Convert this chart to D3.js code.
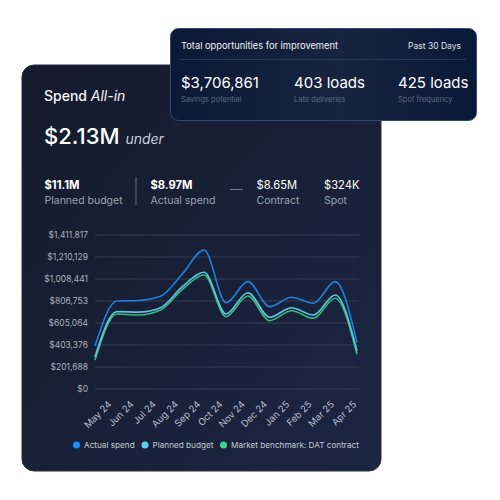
<!DOCTYPE html>
<html>
<head>
<meta charset="utf-8">
<script src="https://cdn.jsdelivr.net/npm/d3@7"></script>
<style>
  html, body { margin: 0; padding: 0; background: #fff; }
  svg { display: block; font-family: Inter, "Noto Sans", sans-serif; }
</style>
</head>
<body>
<div id="chart"></div>
<script>
// spend chart data
const months = ["May 24","Jun 24","Jul 24","Aug 24","Sep 24","Oct 24","Nov 24","Dec 24","Jan 25","Feb 25","Mar 25","Apr 25"];
const actualSpend = [394000, 807000, 812000, 850000, 1054000, 1274000, 791000, 984000, 755000, 841000, 786000, 984000, 424000];
const plannedBudget = [296000, 709000, 705000, 745000, 938000, 1070000, 688000, 883000, 657000, 745000, 678000, 862000, 348000];
const benchmark = [266000, 688000, 678000, 724000, 914000, 1045000, 663000, 853000, 626000, 718000, 648000, 832000, 318000];
const yTicks = [0, 201688, 403376, 605064, 806753, 1008441, 1210129, 1411817];
const yTickLabels = ["$0","$201,688","$403,376","$605,064","$806,753","$1,008,441","$1,210,129","$1,411.817"];

const stats = [
  {value: "$11.1M", label: "Planned budget", bold: true},
  {value: "$8.97M", label: "Actual spend", bold: true},
  {value: "$8.65M", label: "Contract", bold: false},
  {value: "$324K", label: "Spot", bold: false}
];
const opportunities = [
  {value: "$3,706,861", label: "Savings potential"},
  {value: "403 loads", label: "Late deliveries"},
  {value: "425 loads", label: "Spot frequency"}
];
const seriesNames = ["Actual spend", "Planned budget", "Market benchmark: DAT contract"];
const lineColors = ["#1c82dc", "#5fc6de", "#37b883"];
const dotColors = ["#1e8ff5", "#5ad0ee", "#3dd68c"];

const svg = d3.select("#chart").append("svg")
  .attr("width", 500)
  .attr("height", 500);

const defs = svg.append("defs");
const g1 = defs.append("linearGradient").attr("id", "mainBg")
  .attr("x1", "0").attr("y1", "0").attr("x2", "1").attr("y2", "1");
g1.append("stop").attr("offset", "0%").attr("stop-color", "#151a2c");
g1.append("stop").attr("offset", "100%").attr("stop-color", "#1b2642");

const g2 = defs.append("linearGradient").attr("id", "topBg")
  .attr("x1", "0").attr("y1", "0").attr("x2", "1").attr("y2", "0");
g2.append("stop").attr("offset", "0%").attr("stop-color", "#0c1936");
g2.append("stop").attr("offset", "55%").attr("stop-color", "#17243f");
g2.append("stop").attr("offset", "100%").attr("stop-color", "#0a1838");

// main card
svg.append("rect")
  .attr("x", 22).attr("y", 65)
  .attr("width", 359).attr("height", 406)
  .attr("rx", 12)
  .attr("fill", "url(#mainBg)")
  .attr("stroke", "#252d42");

svg.append("text")
  .attr("x", 44).attr("y", 101)
  .attr("fill", "#f2f4f8")
  .attr("font-size", 14)
  .attr("font-weight", 500)
  .text("Spend ")
  .append("tspan")
  .attr("font-style", "italic")
  .attr("font-weight", 400)
  .text("All-in");

svg.append("text")
  .attr("x", 44).attr("y", 143.5)
  .attr("fill", "#ffffff")
  .attr("font-size", 22)
  .attr("font-weight", 500)
  .text("$2.13M ")
  .append("tspan")
  .attr("font-size", 14)
  .attr("font-style", "italic")
  .attr("font-weight", 400)
  .attr("fill", "#c9cfda")
  .text("under");

const statX = [44.5, 150.5, 256.5, 324];
stats.forEach((s, i) => {
  svg.append("text")
    .attr("x", statX[i]).attr("y", 188.5)
    .attr("fill", "#ffffff")
    .attr("font-size", 11.2)
    .attr("font-weight", s.bold ? 700 : 400)
    .text(s.value);
  svg.append("text")
    .attr("x", statX[i]).attr("y", 203.5)
    .attr("fill", "#9aa2b3")
    .attr("font-size", 10.5)
    .text(s.label);
});
svg.append("line")
  .attr("x1", 136).attr("x2", 136)
  .attr("y1", 177).attr("y2", 205)
  .attr("stroke", "#586074").attr("stroke-width", 1.2);
svg.append("line")
  .attr("x1", 230).attr("x2", 243)
  .attr("y1", 189.5).attr("y2", 189.5)
  .attr("stroke", "#6b7386").attr("stroke-width", 1.2);

// chart
const x = d3.scaleLinear().domain([0, actualSpend.length - 1]).range([95, 357]);
const xLabel = d3.scalePoint().domain(months).range([112, 357]);
const y = d3.scaleLinear().domain([0, 1411817]).range([389, 235]);

const grid = svg.append("g");
grid.selectAll("line")
  .data(yTicks)
  .join("line")
  .attr("x1", 95).attr("x2", 359)
  .attr("y1", d => y(d)).attr("y2", d => y(d))
  .attr("stroke", "#363e52")
  .attr("stroke-width", 1);

const yAxis = d3.axisLeft(y)
  .tickValues(yTicks)
  .tickFormat((d, i) => yTickLabels[i])
  .tickSize(0)
  .tickPadding(0);
const yG = svg.append("g")
  .attr("transform", "translate(88,0)")
  .call(yAxis);
yG.select(".domain").remove();
yG.selectAll("text")
  .attr("fill", "#a9b0be")
  .attr("font-size", 8.5)
  .attr("font-family", "Inter, sans-serif");

const xG = svg.append("g");
xG.selectAll("text")
  .data(months)
  .join("text")
  .attr("transform", d => `translate(${xLabel(d)},405) rotate(-45)`)
  .attr("text-anchor", "end")
  .attr("fill", "#b8bfcc")
  .attr("font-size", 9.5)
  .text(d => d);

const line = d3.line()
  .x((d, i) => x(i))
  .y(d => y(d))
  .curve(d3.curveMonotoneX);

[benchmark, plannedBudget, actualSpend].forEach((s, k) => {
  svg.append("path")
    .datum(s)
    .attr("d", line)
    .attr("fill", "none")
    .attr("stroke", lineColors[2 - k])
    .attr("stroke-width", 1.6);
});

// legend
const legendX = [76.5, 145, 223.5];
seriesNames.forEach((n, i) => {
  svg.append("circle")
    .attr("cx", legendX[i]).attr("cy", 445)
    .attr("r", 3.5)
    .attr("fill", dotColors[i]);
  svg.append("text")
    .attr("x", legendX[i] + 7.5).attr("y", 448)
    .attr("fill", "#c3c9d4")
    .attr("font-size", 8.2)
    .text(n);
});

// top card
svg.append("rect")
  .attr("x", 170.5).attr("y", 28.5)
  .attr("width", 306).attr("height", 92)
  .attr("rx", 8)
  .attr("fill", "url(#topBg)")
  .attr("stroke", "#2b4a78");

svg.append("text")
  .attr("x", 181).attr("y", 48.5)
  .attr("fill", "#eef1f6")
  .attr("font-size", 9.3)
  .text("Total opportunities for improvement");
svg.append("text")
  .attr("x", 461).attr("y", 48.5)
  .attr("text-anchor", "end")
  .attr("fill", "#dfe4ec")
  .attr("font-size", 8.5)
  .text("Past 30 Days");
svg.append("line")
  .attr("x1", 180).attr("x2", 466)
  .attr("y1", 59.5).attr("y2", 59.5)
  .attr("stroke", "#24395e");

const oppX = [181, 294, 398];
opportunities.forEach((o, i) => {
  svg.append("text")
    .attr("x", oppX[i]).attr("y", 88)
    .attr("fill", "#ffffff")
    .attr("font-size", 15)
    .attr("font-weight", 400)
    .text(o.value);
  svg.append("text")
    .attr("x", oppX[i]).attr("y", 101.5)
    .attr("fill", "#5c6a84")
    .attr("font-size", 7.5)
    .text(o.label);
});
</script>
</body>
</html>
